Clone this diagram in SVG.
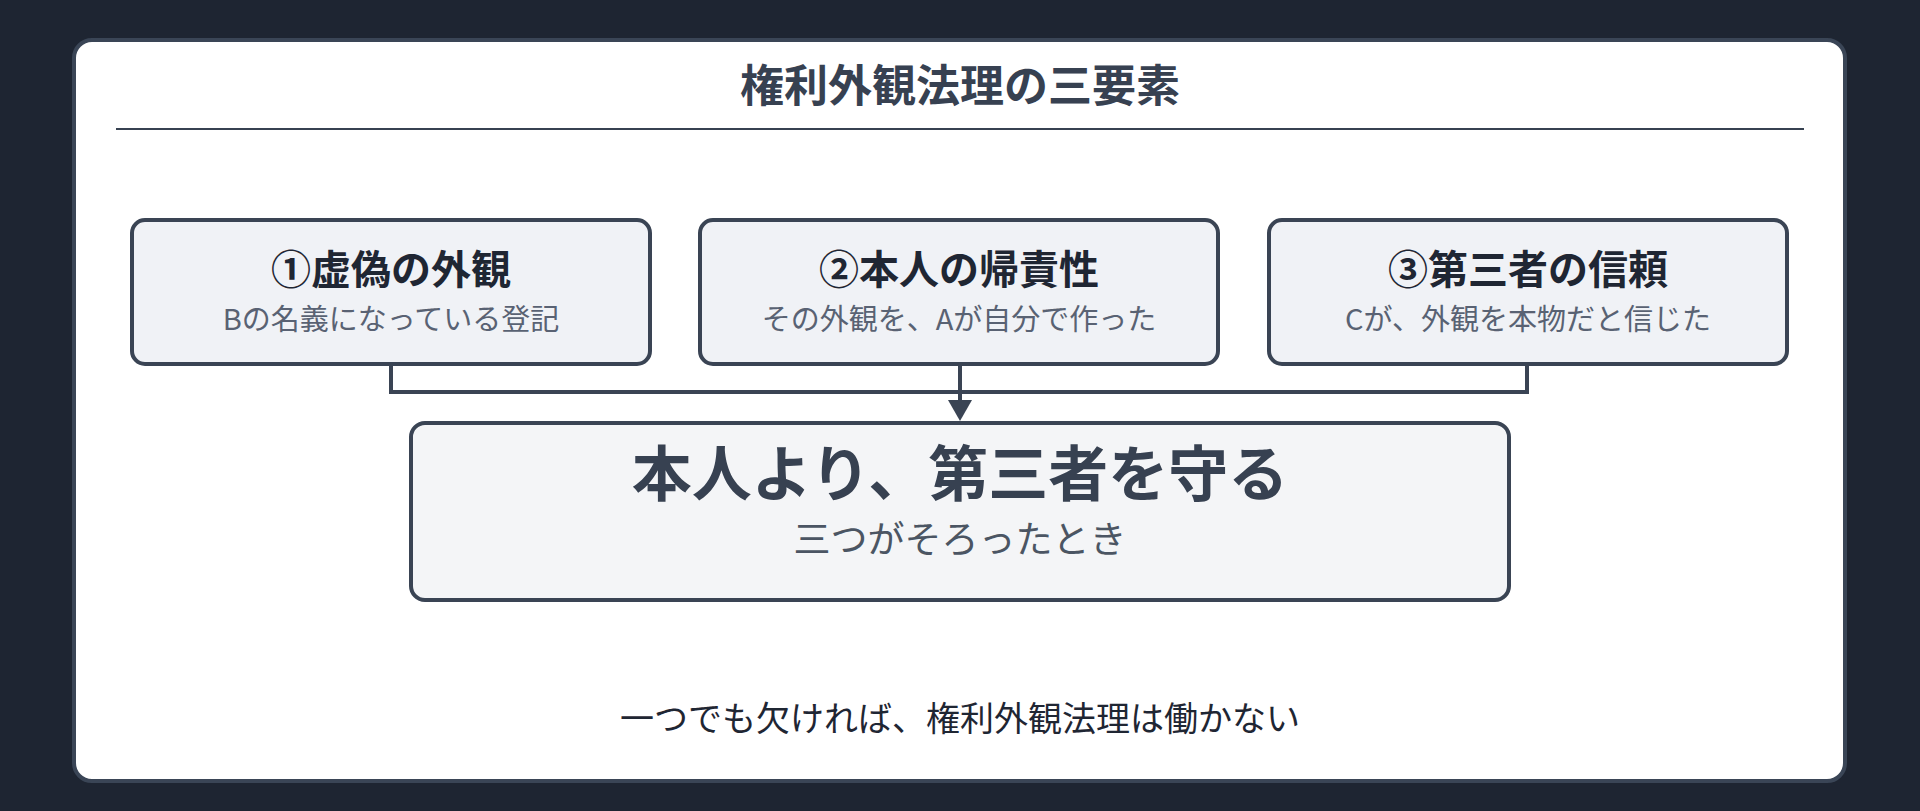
<svg xmlns="http://www.w3.org/2000/svg" width="1920" height="811" viewBox="0 0 1920 811">
<style>
text{font-family:"Noto Sans CJK JP","Noto Sans",sans-serif;text-anchor:middle}
.box{fill:#f0f2f6;stroke:#3a4454;stroke-width:4}
.t{font-size:40px;font-weight:700;fill:#1f2633}
.s{font-size:29px;fill:#596273}
.c{fill:none;stroke:#3a4454;stroke-width:4}
</style>
<defs><marker id="ah" viewBox="0 0 10 10" refX="9" refY="5" markerWidth="6" markerHeight="6" markerUnits="userSpaceOnUse" orient="auto"><path d="M0,0L10,5L0,10z" fill="#3a4454"/></marker></defs>
<rect width="1920" height="811" fill="#1e2532"/>
<rect x="74" y="40" width="1771" height="741" rx="18" fill="#fff" stroke="#3a4556" stroke-width="4"/>
<text x="960" y="102" font-size="44" font-weight="700" fill="#374151">権利外観法理の三要素</text>
<line x1="116" y1="129" x2="1804" y2="129" stroke="#374151" stroke-width="2"/>
<g id="connectors">
<path class="c" d="M391,364V392H1527V364"/>
<path class="c" d="M960,364V400"/>
<path d="M948,400L960,421L972,400z" fill="#3a4454"/>
</g>
<g id="n1"><rect class="box" x="132" y="220" width="518" height="144" rx="13"/>
<text class="t" x="391" y="284">①虚偽の外観</text><text class="s" x="391" y="330">Bの名義になっている登記</text></g>
<g id="n2"><rect class="box" x="700" y="220" width="518" height="144" rx="13"/>
<text class="t" x="959" y="284">②本人の帰責性</text><text class="s" x="959" y="330">その外観を、Aが自分で作った</text></g>
<g id="n3"><rect class="box" x="1269" y="220" width="518" height="144" rx="13"/>
<text class="t" x="1528" y="284">③第三者の信頼</text><text class="s" x="1528" y="330">Cが、外観を本物だと信じた</text></g>
<g id="n4"><rect class="box" x="411" y="423" width="1098" height="177" rx="14" fill="#f4f5f7" style="fill:#f4f5f7"/>
<text x="960" y="496" font-size="60" font-weight="700" fill="#374151">本人より、第三者を守る</text>
<text x="960" y="553" font-size="37" fill="#4b5563">三つがそろったとき</text></g>
<text x="960" y="731" font-size="34" fill="#1f2633">一つでも欠ければ、権利外観法理は働かない</text>
</svg>
